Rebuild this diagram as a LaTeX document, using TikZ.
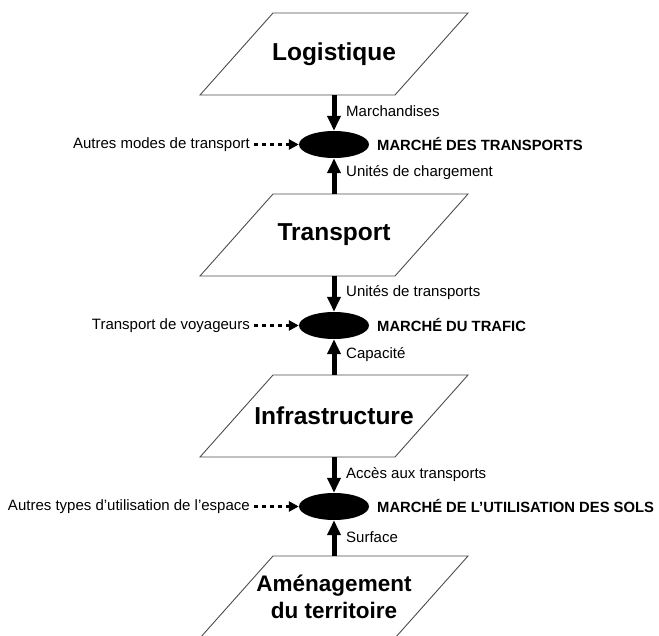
\documentclass[tikz,border=0pt]{standalone}
\usepackage{fontspec}
\setmainfont{Liberation Sans}
\usetikzlibrary{arrows.meta,calc,shapes.geometric}
\newcommand\drawpara[1]{\draw[para] ($(#1.center)+(-61,-41)$) -- ($(#1.center)+(134,-41)$) -- ($(#1.center)+(61,41)$) -- ($(#1.center)+(-134,41)$) -- cycle;}
\begin{document}
\begin{tikzpicture}[x=1pt,y=-1pt,
  title/.style={font=\fontsize{24.5}{27}\selectfont\bfseries, minimum width=195pt, minimum height=82pt, inner sep=0pt, align=center},
  para/.style={draw=black!70, line width=0.9pt},
  mkt/.style={ellipse, fill=black, minimum width=70pt, minimum height=27pt, inner sep=0pt},
  lbl/.style={font=\fontsize{15}{18}\selectfont, inner sep=0pt, anchor=west},
  side/.style={font=\fontsize{15}{18}\selectfont, inner sep=0pt, anchor=east},
  mname/.style={font=\fontsize{14.8}{18}\selectfont\bfseries, inner sep=0pt, anchor=west},
  flow/.style={line width=5pt, -{Triangle[width=13pt,length=15pt]}},
  other/.style={line width=3.5pt, dash pattern=on 4pt off 4pt, shorten <=4pt, -{Triangle[width=10pt,length=10pt]}}
]
\useasboundingbox (0,0) rectangle (659,636);

% boxes
\node[title] (logi) at (334,54) {Logistique};
\node[title] (trans) at (334,235) {Transport};
\node[title] (infra) at (334,416) {Infrastructure};
\node[title, font=\fontsize{22.5}{26.5}\selectfont\bfseries] (amen) at (334,597) {Aménagement\\du territoire};
\drawpara{logi}
\drawpara{trans}
\drawpara{infra}
\drawpara{amen}

% markets
\node[mkt] (m1) at (334,144.5) {};
\node[mkt] (m2) at (334,325.5) {};
\node[mkt] (m3) at (334,506.5) {};

\node[mname] (n1) at (377,144.5) {MARCHÉ DES TRANSPORTS};
\node[mname] (n2) at (377,325.5) {MARCHÉ DU TRAFIC};
\node[mname] (n3) at (377,506.5) {MARCHÉ DE L’UTILISATION DES SOLS};

% flows
\draw[flow] (logi.south) -- (m1.north);
\draw[flow] (trans.north) -- (m1.south);
\draw[flow] (trans.south) -- (m2.north);
\draw[flow] (infra.north) -- (m2.south);
\draw[flow] (infra.south) -- (m3.north);
\draw[flow] (amen.north) -- (m3.south);

\node[lbl] (f1) at (346,111) {Marchandises};
\node[lbl] (f2) at (346,173) {Unités de chargement};
\node[lbl] (f3) at (346,293) {Unités de transports};
\node[lbl] (f4) at (346,355) {Capacité};
\node[lbl] (f5) at (346,475) {Accès aux transports};
\node[lbl] (f6) at (346,537) {Surface};

% other inputs
\node[side] (o1) at (250,144.5) {Autres modes de transport};
\node[side] (o2) at (250,325.5) {Transport de voyageurs};
\node[side] (o3) at (250,506.5) {Autres types d’utilisation de l’espace};
\draw[other] (o1.east) -- (m1.west);
\draw[other] (o2.east) -- (m2.west);
\draw[other] (o3.east) -- (m3.west);
\end{tikzpicture}
\end{document}
